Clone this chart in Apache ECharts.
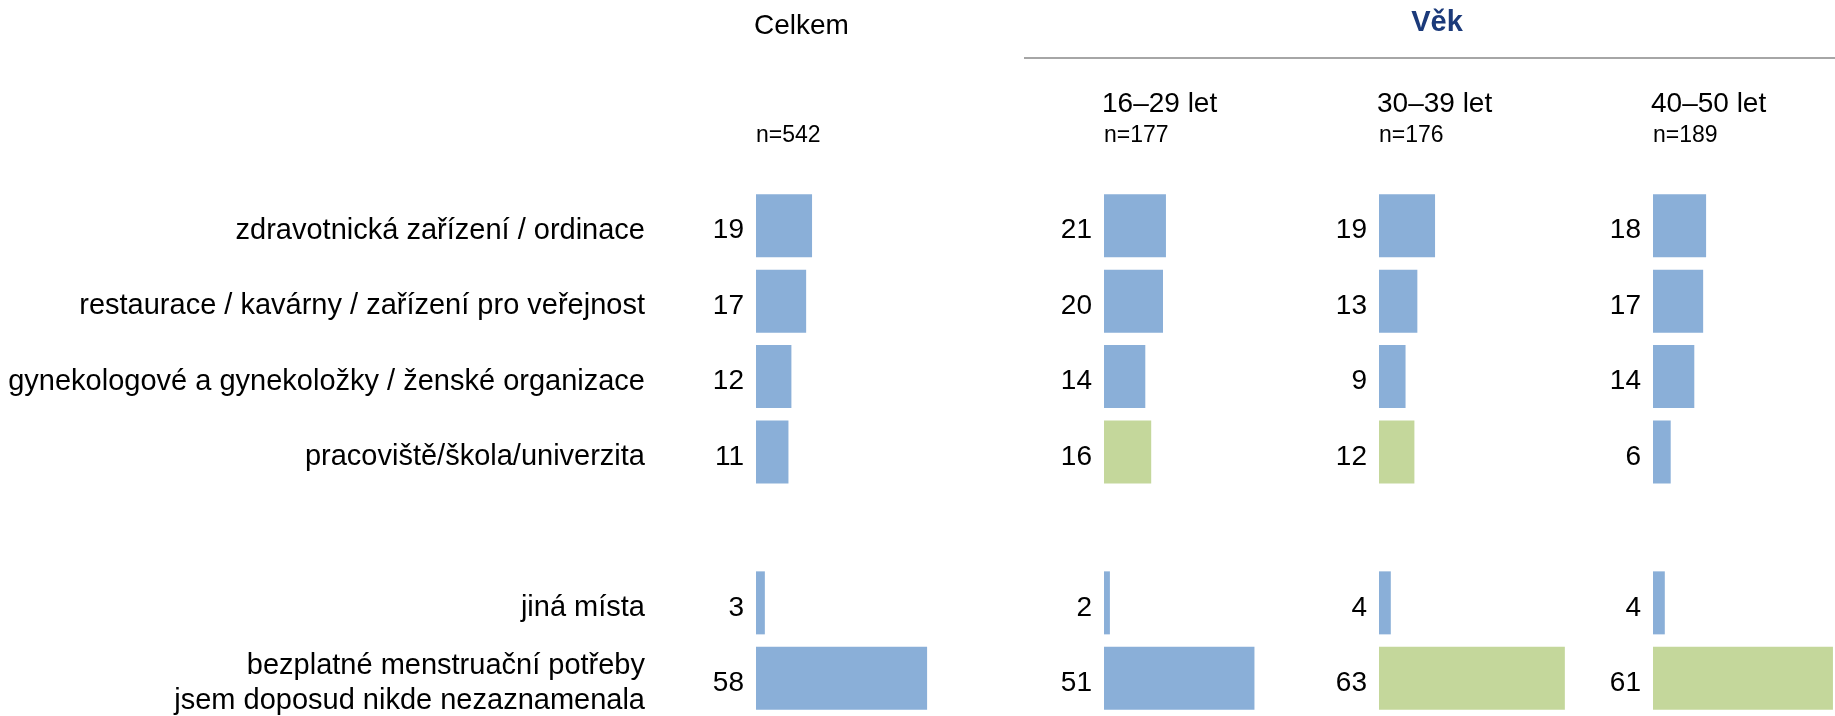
<!DOCTYPE html>
<html>
<head>
<meta charset="utf-8">
<script src="https://cdn.jsdelivr.net/npm/echarts@6.0.0/dist/echarts.min.js"></script>
<style>
  html, body { margin: 0; padding: 0; background: #fff; }
  #main { width: 1835px; height: 716px; }
</style>
</head>
<body>
<div id="main"></div>
<script>
// kategorie (prazdna kategorie = mezera mezi skupinami)
var categories = [
  'zdravotnická zařízení / ordinace',
  'restaurace / kavárny / zařízení pro veřejnost',
  'gynekologové a gynekoložky / ženské organizace',
  'pracoviště/škola/univerzita',
  '',
  'jiná místa',
  'bezplatné menstruační potřeby\njsem doposud nikde nezaznamenala'
];

var panelNames = ['Celkem', '16–29 let', '30–39 let', '40–50 let'];
var panelN = ['n=542', 'n=177', 'n=176', 'n=189'];

var celkem = [19, 17, 12, 11, null, 3, 58];
var vek1629 = [21, 20, 14, 16, null, 2, 51];
var vek3039 = [19, 13, 9, 12, null, 4, 63];
var vek4050 = [18, 17, 14, 6, null, 4, 61];

// zelene = vyznamne vyssi hodnota
var celkemHi = [0, 0, 0, 0, 0, 0, 0];
var vek1629Hi = [0, 0, 0, 1, 0, 0, 0];
var vek3039Hi = [0, 0, 0, 1, 0, 0, 1];
var vek4050Hi = [0, 0, 0, 0, 0, 0, 1];

var groupTitle = 'Věk';

var panelValues = [celkem, vek1629, vek3039, vek4050];
var panelHi = [celkemHi, vek1629Hi, vek3039Hi, vek4050Hi];

var FONT = '"Liberation Sans", Arial, sans-serif';
var BLUE = '#8AAFD8';
var GREEN = '#C4D79B';

var panelLeft = [756, 1104, 1379, 1653];
var panelWidth = [295, 270, 270, 182];   // posledni panel konci na okraji
var pxPerUnit = 2.95;
var gridTop = 188;
var gridHeight = 528;

var chart = echarts.init(document.getElementById('main'), null, { renderer: 'canvas' });

var grids = [], xAxes = [], yAxes = [], series = [], graphics = [];

for (var i = 0; i < panelValues.length; i++) {
  grids.push({
    left: panelLeft[i], top: gridTop, width: panelWidth[i], height: gridHeight,
    outerBoundsMode: 'none', containLabel: false
  });

  xAxes.push({
    gridIndex: i, type: 'value', min: 0, max: panelWidth[i] / pxPerUnit, show: false
  });

  yAxes.push({
    gridIndex: i,
    type: 'category',
    inverse: true,
    data: categories,
    axisLine: { show: false },
    axisTick: { show: false },
    splitLine: { show: false },
    axisLabel: {
      show: i === 0,
      margin: 111,
      fontSize: 29,
      lineHeight: 35,
      color: '#000',
      fontFamily: FONT,
      align: 'right',
      // prazdny radek navrch -> text o kousek niz, jako v Excelu
      formatter: function (v) { return v ? '{s| }\n' + v : ''; },
      rich: { s: { fontSize: 1, lineHeight: 10 } }
    }
  });

  var d = [];
  for (var j = 0; j < panelValues[i].length; j++) {
    d.push({
      value: panelValues[i][j],
      itemStyle: { color: panelHi[i][j] ? GREEN : BLUE }
    });
  }

  series.push({
    type: 'bar',
    name: panelNames[i],
    xAxisIndex: i,
    yAxisIndex: i,
    barWidth: 63,
    data: d,
    label: {
      show: true,
      position: 'left',
      distance: 12,
      offset: [0, 5],
      fontSize: 28,
      color: '#000',
      fontFamily: FONT
    },
    animation: false
  });

  // nadpisy panelu
  graphics.push({
    type: 'text',
    x: panelLeft[i] - 2,
    y: i === 0 ? 26 : 104,
    style: { text: panelNames[i], fontSize: 28, fill: '#000', fontFamily: FONT, verticalAlign: 'middle' }
  });
  graphics.push({
    type: 'text',
    x: panelLeft[i],
    y: 136,
    style: { text: panelN[i], fontSize: 23, fill: '#000', fontFamily: FONT, verticalAlign: 'middle' }
  });
}

// Vek + cara
graphics.push({
  type: 'line',
  shape: { x1: 1024, y1: 58, x2: 1835, y2: 58 },
  style: { stroke: '#A6A6A6', lineWidth: 2 }
});
graphics.push({
  type: 'text',
  x: 1437,
  y: 23,
  style: {
    text: groupTitle, fontSize: 29, fontWeight: 'bold', fill: '#1B3A7A',
    fontFamily: FONT, align: 'center', verticalAlign: 'middle'
  }
});

var option = {
  backgroundColor: '#fff',
  animation: false,
  grid: grids,
  xAxis: xAxes,
  yAxis: yAxes,
  series: series,
  graphic: graphics
};

chart.setOption(option);
</script>
</body>
</html>
